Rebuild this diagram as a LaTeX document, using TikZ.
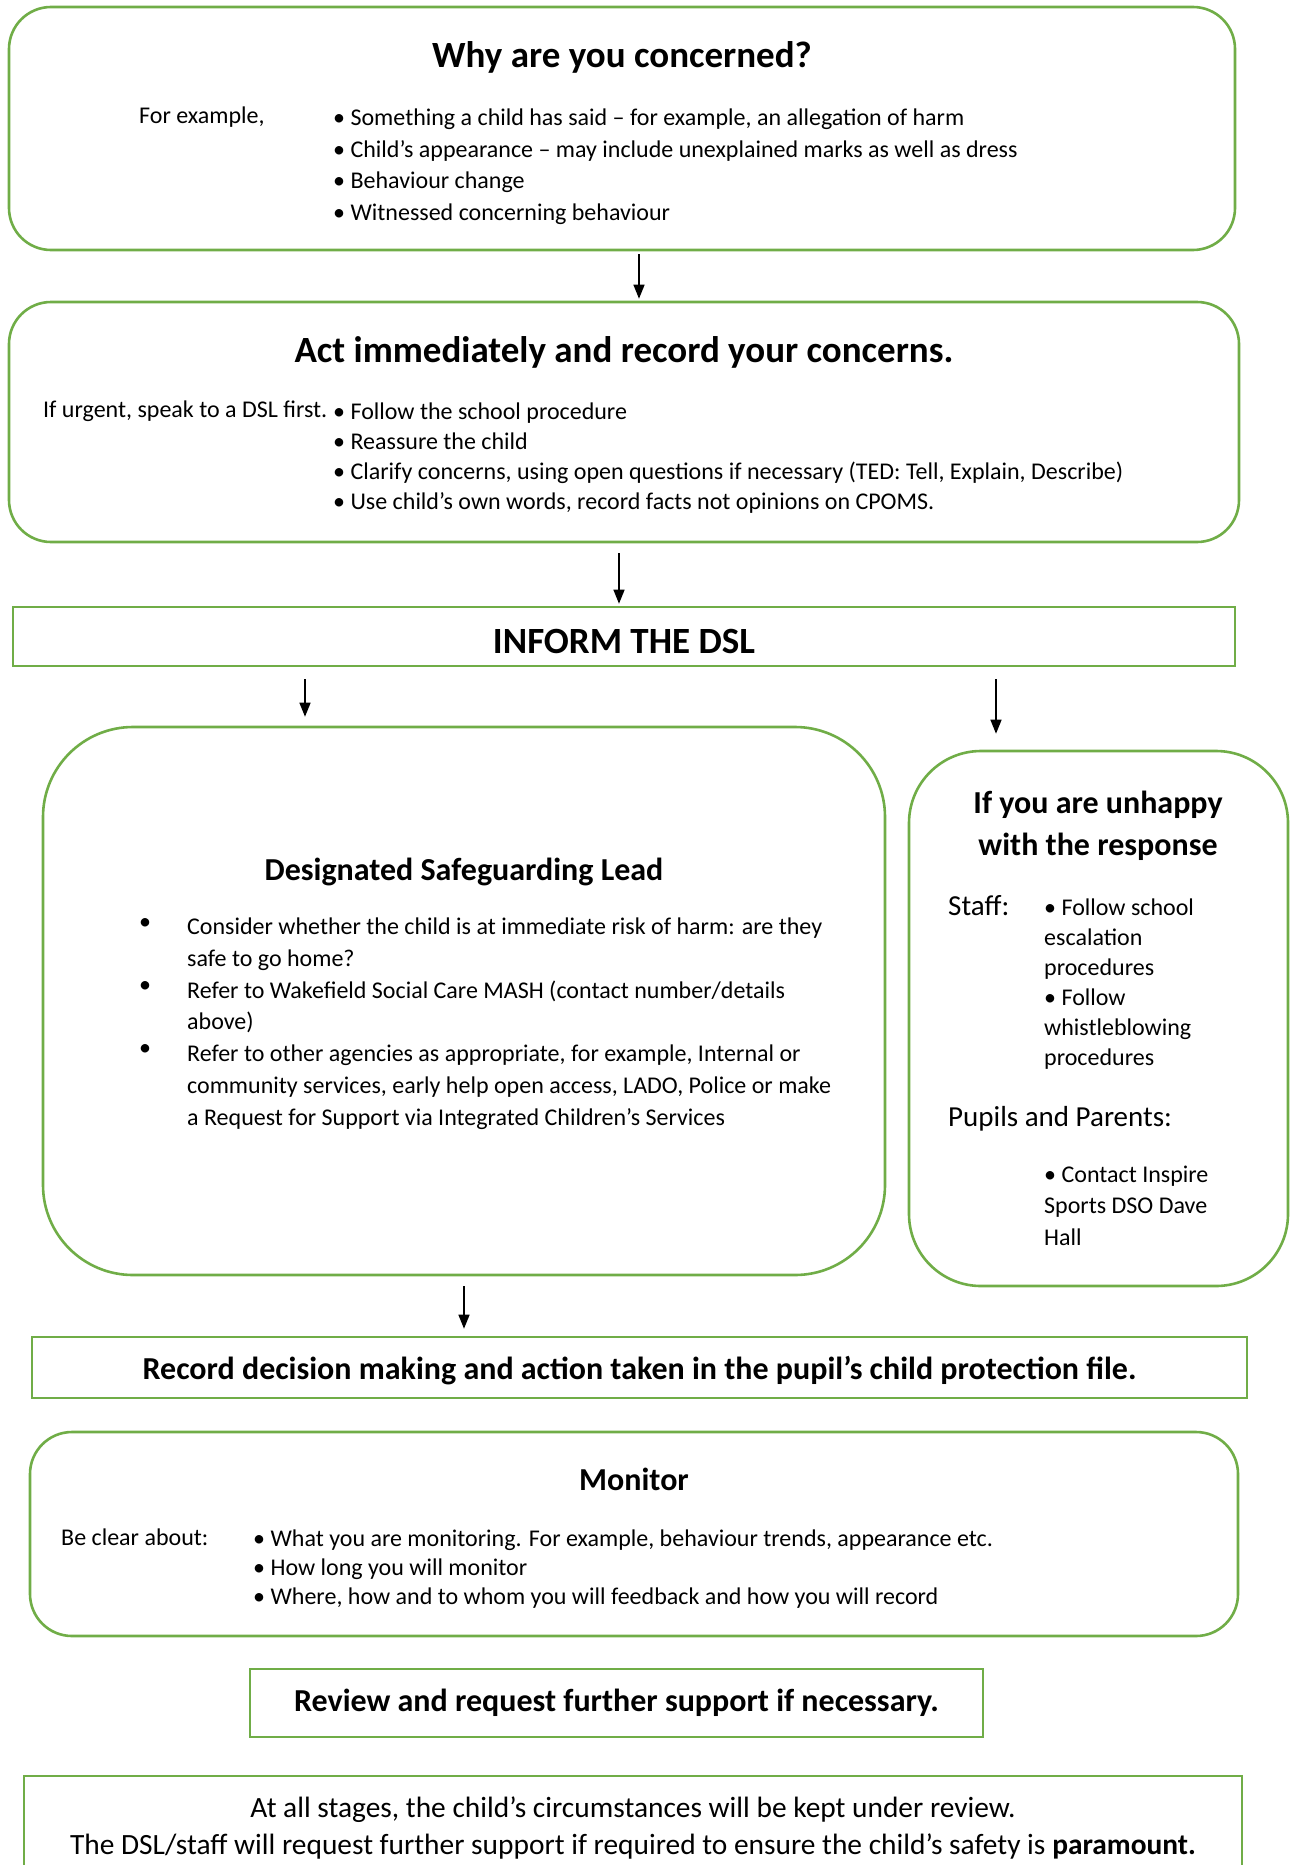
\documentclass[tikz,border=0pt]{standalone}
\usepackage{fontspec}
\setmainfont{Carlito}
\usetikzlibrary{arrows.meta}
\definecolor{boxgreen}{RGB}{112,173,71}
\begin{document}
\begin{tikzpicture}[x=1pt,y=-1pt,
    box/.style={draw=boxgreen,line width=2.6pt,rounded corners=42pt,inner sep=0pt},
    flat/.style={draw=boxgreen,line width=2.6pt,inner sep=0pt},
    head/.style={inner sep=0pt,font=\fontsize{32}{38}\selectfont\bfseries},
    body/.style={inner sep=0pt,anchor=west,font=\fontsize{24}{30}\selectfont},
    list/.style={inner sep=0pt,anchor=north west,align=left},
    arr/.style={-{Triangle[length=14pt,width=11pt]},line width=1.4pt}]
  \useasboundingbox (0,0) rectangle (1293,1865);
  % boxes
  \node[box,minimum width=1226,minimum height=243] (why) at (622,128.5) {};
  \node[box,minimum width=1230,minimum height=240] (act) at (624,422) {};
  \node[flat,minimum width=1222,minimum height=59] (inform) at (624,636.5) {};
  \node[box,rounded corners=90pt,minimum width=842,minimum height=548] (dsl) at (464,1001) {};
  \node[box,rounded corners=72pt,minimum width=379,minimum height=535] (unhappy) at (1098.5,1018.5) {};
  \node[flat,minimum width=1215,minimum height=61] (record) at (639.5,1367.5) {};
  \node[box,minimum width=1208,minimum height=204] (monitor) at (634,1534) {};
  \node[flat,minimum width=733,minimum height=68] (review) at (616.5,1703) {};
  \node[flat,minimum width=1218,minimum height=124] (stages) at (633,1838) {};
  % why
  \node[head,font=\fontsize{37}{42}\selectfont\bfseries] (whyt) at (622,57) {Why are you concerned?};
  \node[body] (forex) at (139,117) {For example,};
  \node[list,font=\fontsize{24}{31.8}\selectfont] (whyl) at (333,108.5) {%
    • Something a child has said – for example, an allegation of harm\\
    • Child’s appearance – may include unexplained marks as well as dress\\
    • Behaviour change\\
    • Witnessed concerning behaviour};
  % act
  \node[head,font=\fontsize{37}{42}\selectfont\bfseries] (actt) at (624,352) {Act immediately and record your concerns.};
  \node[body] (urgent) at (43,411.5) {If urgent, speak to a DSL first.};
  \node[list,font=\fontsize{24}{30}\selectfont] (actl) at (333,402.5) {%
    • Follow the school procedure\\
    • Reassure the child\\
    • Clarify concerns, using open questions if necessary (TED: Tell, Explain, Describe)\\
    • Use child’s own words, record facts not opinions on CPOMS.};
  % inform
  \node[head,font=\fontsize{37}{40}\selectfont\bfseries] (informt) at (624,641) {INFORM THE DSL};
  % dsl
  \node[head] (dslt) at (464,872) {Designated Safeguarding Lead};
  \node[list,font=\fontsize{24}{31.7}\selectfont] (dslb) at (139,918) {•\\\mbox{}\\•\\\mbox{}\\•};
  \node[list,font=\fontsize{24}{31.7}\selectfont] (dsll) at (187,918) {%
    Consider whether the child is at immediate risk of harm: are they\\
    safe to go home?\\
    Refer to Wakefield Social Care MASH (contact number/details\\
    above)\\
    Refer to other agencies as appropriate, for example, Internal or\\
    community services, early help open access, LADO, Police or make\\
    a Request for Support via Integrated Children’s Services};
  % unhappy
  \node[head,align=center,font=\fontsize{32}{42}\selectfont\bfseries] (unhappyt) at (1098,826)
    {If you are unhappy\\with the response};
  \node[body,font=\fontsize{29}{32}\selectfont] (staff) at (948,906) {Staff:};
  \node[list,font=\fontsize{24}{30}\selectfont] (staffl) at (1044,898.5) {%
    • Follow school\\escalation\\procedures\\• Follow\\whistleblowing\\procedures};
  \node[body,font=\fontsize{29}{32}\selectfont] (pupils) at (948,1119) {Pupils and Parents:};
  \node[list,font=\fontsize{24}{31.5}\selectfont] (pupilsl) at (1044,1165.5) {%
    • Contact Inspire\\Sports DSO Dave\\Hall};
  % record
  \node[head] (recordt) at (639.5,1371) {Record decision making and action taken in the pupil’s child protection file.};
  % monitor
  \node[head] (monitort) at (634,1479) {Monitor};
  \node[body] (clear) at (61,1537) {Be clear about:};
  \node[list,font=\fontsize{24}{29}\selectfont] (monitorl) at (253,1529.5) {%
    • What you are monitoring. For example, behaviour trends, appearance etc.\\
    • How long you will monitor\\
    • Where, how and to whom you will feedback and how you will record};
  % review
  \node[head] (reviewt) at (616.5,1703) {Review and request further support if necessary.};
  % stages
  \node[inner sep=0pt,align=center,font=\fontsize{29.4}{37}\selectfont] (stagest) at (633,1828)
    {At all stages, the child’s circumstances will be kept under review.\\
    The DSL/staff will request further support if required to ensure the child’s safety is \textbf{paramount.}};
  % arrows
  \coordinate (a1) at (639,0);
  \coordinate (a2) at (619,0);
  \coordinate (a3) at (305,0);
  \coordinate (a4) at (996,0);
  \coordinate (a5) at (464,0);
  \begin{scope}[arr]
    \draw[shorten <=3pt,shorten >=2pt] (why.south -| a1) -- (act.north -| a1);
    \draw[shorten <=10pt,shorten >=2pt] (act.south -| a2) -- (inform.north -| a2);
    \draw[shorten <=12pt,shorten >=9pt] (inform.south -| a3) -- (dsl.north -| a3);
    \draw[shorten <=12pt,shorten >=16pt] (inform.south -| a4) -- (unhappy.north -| a4);
    \draw[shorten <=10pt,shorten >=7pt] (dsl.south -| a5) -- (record.north -| a5);
  \end{scope}
\end{tikzpicture}
\end{document}
